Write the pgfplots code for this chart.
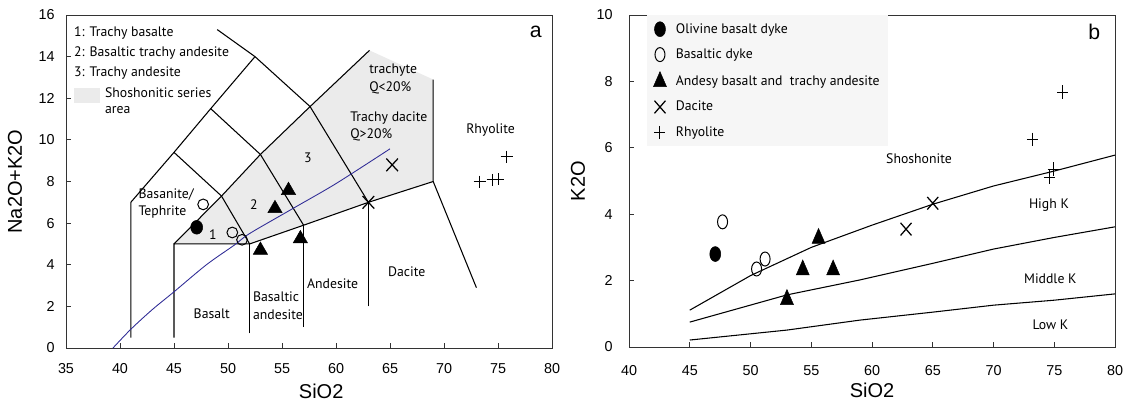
\documentclass[border=0pt]{standalone}
\usepackage{fontspec}
\setmainfont{PT Sans}
\newfontfamily\arialf{Liberation Sans}
\usepackage{pgfplots}
\pgfplotsset{compat=1.18}
\definecolor{shgray}{RGB}{235,235,235}
\definecolor{legbg}{RGB}{246,246,246}
\definecolor{ibblue}{RGB}{48,44,150}
\newcommand{\annf}{\fontsize{11}{14}\selectfont}

\begin{document}
\begin{tikzpicture}
\tikzset{
  diag/.style={black, line width=0.85pt},
  ann/.style={font=\annf, inner sep=0pt},
}
\pgfplotsset{
  every axis/.append style={
    scale only axis, anchor=south west, clip=false,
    axis line style={black!80, line width=0.8pt},
    tick align=inside, xtick pos=bottom, ytick pos=left,
    major tick length=4pt, tick style={black!80, line width=0.8pt},
    ticklabel style={font=\arialf\fontsize{11.5}{13}\selectfont},
    /pgf/number format/assume math mode=true,
    label style={font=\arialf\fontsize{16}{18}\selectfont},
    ylabel style={at={(axis description cs:-0.105,0.5)}, anchor=center},
  },
}

% ---- a: TAS ----
\begin{axis}[
  at={(52.8pt,44pt)}, width=388.8pt, height=266.4pt,
  xmin=35, xmax=80, ymin=0, ymax=16,
  xtick={35,40,...,80}, ytick={0,2,...,16},
  xticklabel style={yshift=-8.8pt}, yticklabel style={xshift=-5.6pt},
  xlabel={SiO2}, ylabel={Na2O+K2O},
  xlabel style={at={(axis description cs:0.525,-0.13)}, anchor=center},
]
\addplot[fill=shgray, draw=none] coordinates {
  (45,5) (49.4,7.3) (53,9.3) (57.6,11.6) (63.1,14.3) (69,12.9) (69,8) (63,7) (57,5.9) (52,5)} -- cycle;
\addplot[diag] coordinates {(41,0.5) (41,7) (45,9.4) (48.4,11.5) (52.5,14)};
\addplot[diag] coordinates {(49,15.3) (52.5,14) (57.6,11.6) (63,7)};
\addplot[diag] coordinates {(45,9.4) (49.4,7.3) (52,5)};
\addplot[diag] coordinates {(48.4,11.5) (53,9.3) (57,5.9)};
\addplot[diag] coordinates {(45,5) (49.4,7.3) (53,9.3) (57.6,11.6) (63.1,14.3)};
\addplot[diag] coordinates {(45,0.5) (45,5) (52,5) (57,5.9) (63,7) (69,8)};
\addplot[diag] coordinates {(52,0.7) (52,5)};
\addplot[diag] coordinates {(57,1) (57,5.9)};
\addplot[diag] coordinates {(63,2) (63,7)};
\addplot[diag] coordinates {(69,12.9) (69,8) (73,2.9)};
\addplot[ibblue, line width=0.7pt, smooth] coordinates {
  (39.35,0) (41,0.9) (43,1.85) (45,2.7) (48,4.0) (50.6,4.95) (52,5.5) (56,6.7) (60,7.9) (65,9.57)};

\addplot[only marks, mark=*, mark size=4.8pt, mark options={yscale=1.15, fill=black}] coordinates {(47.1,5.8)};
\addplot[only marks, mark=o, mark size=4.3pt, mark options={line width=0.8pt}] coordinates {(47.7,6.9) (50.4,5.55) (51.3,5.2)};
\addplot[only marks, mark=triangle*, mark size=6.6pt, mark options={fill=black}] coordinates {(53.0,4.7) (54.35,6.7) (55.6,7.57) (56.7,5.25)};
\addplot[only marks, mark=x, mark size=6.6pt, mark options={yscale=1.08, line width=1pt}] coordinates {(65.2,8.8) (63.0,7.0)};
\addplot[only marks, mark=+, mark size=4.8pt, mark options={line width=0.8pt}] coordinates {(75.8,9.2) (73.3,8.0) (74.5,8.08) (75.0,8.12)};

\node[ann, anchor=west] at (axis cs:35.74,15.14) {1: Trachy basalte};
\node[ann, anchor=west] at (axis cs:35.74,14.18) {2: Basaltic trachy andesite};
\node[ann, anchor=west] at (axis cs:35.74,13.22) {3: Trachy andesite};
\fill[shgray] (axis cs:35.74,12.5) rectangle (axis cs:38.15,11.78);
\node[ann, anchor=west] at (axis cs:38.6,12.26) {Shoshonitic series};
\node[ann, anchor=west] at (axis cs:38.6,11.44) {area};
\node[ann, anchor=west] at (axis cs:63.06,13.37) {trachyte};
\node[ann, anchor=west] at (axis cs:63.06,12.5) {Q<20\%};
\node[ann, anchor=west] at (axis cs:61.3,11.06) {Trachy dacite};
\node[ann, anchor=west] at (axis cs:61.3,10.24) {Q>20\%};
\node[ann, anchor=west] at (axis cs:72.04,10.48) {Rhyolite};
\node[ann] at (axis cs:57.4,9.13) {3};
\node[ann] at (axis cs:52.4,6.88) {2};
\node[ann] at (axis cs:48.6,5.43) {1};
\node[ann, anchor=west] at (axis cs:41.7,7.36) {Basanite/};
\node[ann, anchor=west] at (axis cs:41.7,6.54) {Tephrite};
\node[ann] at (axis cs:48.5,1.63) {Basalt};
\node[ann, anchor=west] at (axis cs:52.3,2.45) {Basaltic};
\node[ann, anchor=west] at (axis cs:52.3,1.59) {andesite};
\node[ann, anchor=west] at (axis cs:57.3,3.08) {Andesite};
\node[ann, anchor=west] at (axis cs:64.8,3.65) {Dacite};
\node[font=\arialf\fontsize{17}{18}\selectfont, inner sep=0pt] at (axis cs:78.5,15.2) {a};
\end{axis}

% ---- b: K2O vs SiO2 ----
\begin{axis}[
  at={(503.2pt,44.8pt)}, width=388.8pt, height=265.6pt,
  xmin=40, xmax=80, ymin=0, ymax=10,
  xtick={40,45,...,80}, ytick={0,2,...,10},
  xticklabel style={yshift=-11pt}, yticklabel style={xshift=-9.6pt},
  xlabel={SiO2}, ylabel={K2O},
  xlabel style={at={(axis description cs:0.5,-0.13)}, anchor=center},
  legend cell align=left,
  legend style={at={(axis description cs:0.037,1)}, anchor=north west,
    fill=legbg, draw=none, font=\annf, inner xsep=5pt, inner ysep=4.5pt,
    row sep=7pt, /tikz/every odd column/.append style={column sep=5.5pt}},
]
\addplot[only marks, mark=*, mark size=4.4pt, mark options={yscale=1.36, fill=black}] coordinates {(47.1,2.8)};
\addlegendentry{Olivine basalt dyke}
\addplot[only marks, mark=o, mark size=4pt, mark options={yscale=1.4, line width=0.8pt}] coordinates {(47.7,3.77) (50.5,2.35) (51.2,2.65)};
\addlegendentry{Basaltic dyke}
\addplot[only marks, mark=triangle*, mark size=6pt, mark options={yscale=1.33, fill=black}] coordinates {(55.6,3.27) (54.3,2.32) (56.8,2.32) (53.0,1.43)};
\addlegendentry{Andesy basalt and\ \ trachy andesite}
\addplot[only marks, mark=x, mark size=6.2pt, mark options={yscale=1.15, line width=1pt}] coordinates {(65.0,4.33) (62.8,3.55)};
\addlegendentry{Dacite}
\addplot[only marks, mark=+, mark size=4.4pt, mark options={yscale=1.2, line width=0.8pt}] coordinates {(75.7,7.68) (73.2,6.26) (74.9,5.36) (74.6,5.12)};
\addlegendentry{Rhyolite}

\addplot[diag, forget plot] coordinates {(45,1.11) (50,2.15) (55,3.0) (60,3.67) (65,4.3) (70,4.85) (75,5.3) (80,5.78)};
\addplot[diag, forget plot] coordinates {(45,0.75) (53,1.57) (59,2.02) (65,2.52) (70,2.95) (75,3.3) (80,3.62)};
\addplot[diag, forget plot] coordinates {(45,0.21) (53,0.51) (59,0.81) (65,1.05) (70,1.26) (75,1.41) (80,1.6)};

\node[ann, anchor=west] at (axis cs:61.15,5.66) {Shoshonite};
\node[ann, anchor=west] at (axis cs:72.9,4.28) {High K};
\node[ann, anchor=west] at (axis cs:72.5,2.05) {Middle K};
\node[ann, anchor=west] at (axis cs:73.2,0.66) {Low K};
\node[font=\arialf\fontsize{17}{18}\selectfont, inner sep=0pt] at (axis cs:78.3,9.49) {b};
\end{axis}
\pgfresetboundingbox
\path (0pt,0pt) rectangle (900.8pt,322.4pt);
\end{tikzpicture}
\end{document}
